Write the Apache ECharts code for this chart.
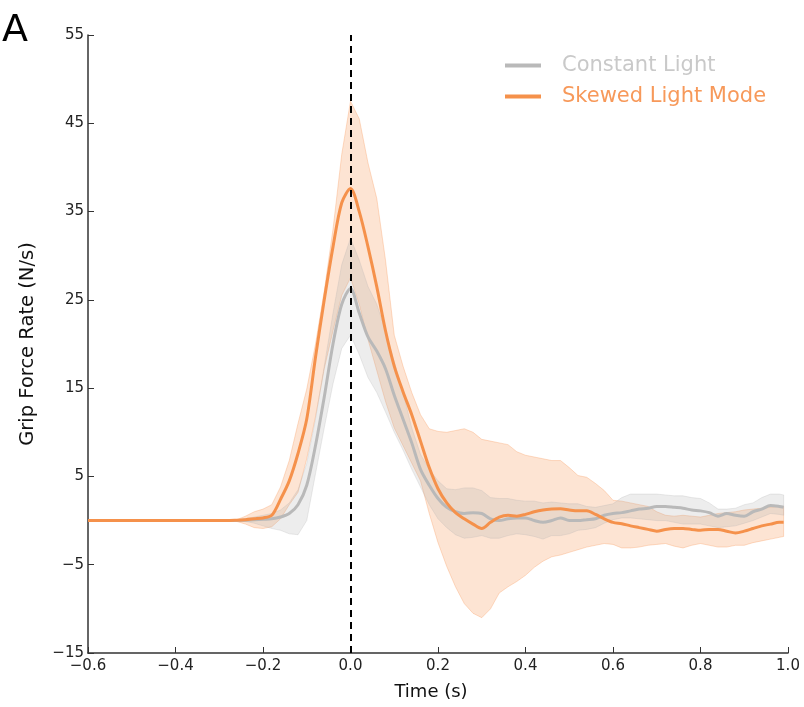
<!DOCTYPE html>
<html>
<head>
<meta charset="utf-8">
<script src="https://cdn.jsdelivr.net/npm/echarts@6/dist/echarts.min.js"></script>
<style>
    html, body { margin: 0; padding: 0; background: #fff; }
    #chart { width: 804px; height: 707px; }
</style>
</head>
<body>
<div id="chart"></div>
<script>
// time points (s)
var times = [-0.6, -0.5, -0.4, -0.3, -0.26, -0.24, -0.22, -0.20, -0.18, -0.16, -0.14, -0.12, -0.10, -0.08, -0.06, -0.04, -0.02,
    0.00, 0.02, 0.04, 0.06, 0.08, 0.10, 0.12, 0.14, 0.16, 0.18, 0.20, 0.22, 0.24, 0.26, 0.28, 0.30, 0.32, 0.34, 0.36, 0.38,
    0.40, 0.42, 0.44, 0.46, 0.48, 0.50, 0.52, 0.54, 0.56, 0.58, 0.60, 0.62, 0.64, 0.66, 0.68, 0.70, 0.72, 0.74, 0.76, 0.78,
    0.80, 0.82, 0.84, 0.86, 0.88, 0.90, 0.92, 0.94, 0.96, 0.98, 0.99];

// Skewed Light Mode: mean, upper, lower
var skewMean = [0, 0, 0, 0, 0.05, 0.1, 0.2, 0.3, 0.6, 2.4, 4.5, 7.6, 11.5, 18.5, 25, 31, 36,
    37.6, 35, 31, 26.5, 21.5, 17.5, 14.6, 12, 9, 6, 3.6, 2, 0.9, 0.2, -0.4, -0.9, -0.2, 0.4, 0.6, 0.5,
    0.7, 1.0, 1.2, 1.3, 1.35, 1.2, 1.1, 1.1, 0.7, 0.2, -0.2, -0.35, -0.6, -0.8, -1.0, -1.2, -1.0, -0.9, -0.9, -1.0,
    -1.1, -1.0, -1.0, -1.2, -1.4, -1.2, -0.9, -0.6, -0.4, -0.2, -0.2];
var skewUpper = [0, 0, 0, 0, 0.1, 0.5, 1.0, 1.3, 1.8, 3.8, 6.8, 11, 14.9, 20, 26, 33, 41.5,
    47.5, 45.5, 40.5, 36.5, 29.5, 21, 17.5, 14.5, 12, 10.4, 10.1, 10, 10.2, 10.4, 10, 9.2, 9, 8.8, 8.6, 7.8,
    7.4, 7.2, 7.0, 6.8, 6.8, 6, 5.1, 4.9, 4.2, 3.4, 2.3, 2.2, 2.0, 1.8, 1.6, 1.0, 0.6, 0.5, 0.6, 0.5,
    0.4, 0.6, 0.8, 0.9, 1.0, 1.2, 1.3, 1.4, 1.5, 1.6, 1.6];
var skewLower = [0, 0, 0, 0, -0.1, -0.4, -0.8, -0.9, -0.7, 0.2, 1.8, 3.2, 7, 11.8, 17.2, 21.5, 25.5,
    27.5, 24.5, 20.5, 17, 13.5, 10.5, 8.5, 6.5, 4.5, 0.8, -2.5, -5.2, -7.5, -9.4, -10.5, -11.0, -10, -8.2, -7.5, -6.9,
    -6.2, -5.3, -4.6, -4.1, -3.9, -3.6, -3.3, -3.0, -2.8, -2.6, -2.7, -3.1, -3.1, -3.0, -2.8, -2.7, -2.6, -2.9, -3.1, -2.8,
    -2.6, -2.8, -3.0, -3.0, -2.8, -2.8, -2.5, -2.3, -2.1, -1.9, -1.8];

// Constant Light: mean, upper, lower
var constMean = [0, 0, 0, 0, 0, 0.05, 0.1, 0.15, 0.2, 0.4, 0.8, 1.8, 4.0, 8.5, 14, 20, 24.5,
    26.3, 23.5, 20.8, 19.2, 17.2, 14.2, 11.5, 8.8, 5.8, 4.0, 2.5, 1.5, 1.0, 0.8, 0.9, 0.8, 0.2, 0, 0.2, 0.3,
    0.3, 0, -0.2, 0, 0.3, 0, 0, 0.1, 0.2, 0.6, 0.8, 0.9, 1.1, 1.3, 1.4, 1.6, 1.6, 1.5, 1.4, 1.2,
    1.1, 0.9, 0.5, 0.8, 0.6, 0.5, 1.0, 1.3, 1.7, 1.6, 1.5];
var constUpper = [0, 0, 0, 0, 0, 0.2, 0.4, 0.6, 0.8, 1.2, 2, 3.5, 6.5, 11.5, 17.5, 23.5, 29,
    32, 29.5, 26.5, 24.5, 21.5, 18, 14.5, 10.5, 7.5, 5.8, 4.5, 3.6, 3.5, 3.7, 3.7, 3.4, 2.6, 2.5, 2.5, 2.3,
    2.2, 2.2, 2.0, 2.1, 2.0, 1.9, 1.9, 1.6, 1.5, 1.7, 1.9, 2.6, 3.0, 3.0, 3.0, 3.0, 2.9, 2.8, 2.8, 2.6,
    2.5, 2.0, 1.3, 1.3, 1.4, 1.8, 2.0, 2.6, 3.0, 3.0, 2.9];
var constLower = [0, 0, 0, 0, 0, -0.1, -0.3, -0.6, -0.9, -1.1, -1.5, -1.6, 0, 5.3, 10.5, 15.5, 19.5,
    21, 18.8, 16.2, 14.5, 12.3, 10, 8, 5.8, 3.8, 1.8, 0.2, -0.8, -1.6, -2.0, -1.9, -1.7, -2.0, -2.0, -1.7, -1.5,
    -1.6, -1.8, -2.1, -1.7, -1.7, -1.5, -1.1, -1.0, -0.8, -0.3, 0.1, 0.3, 0.3, 0.2, 0.1, 0, 0, -0.2, -0.4, -0.4,
    -0.4, -0.6, -0.8, -0.7, -0.6, -0.3, 0, 0.4, 0.8, 0.7, 0.6];

var orange = '#f5914b';
var grey = '#b9b9b9';

function pairs(ys) {
    var out = [];
    for (var i = 0; i < times.length; i++) {
        out.push([times[i], ys[i]]);
    }
    return out;
}

// band polygon built from the axis scales
function bandSeries(upper, lower, fill, edge) {
    return {
        type: 'custom',
        data: [[0, 0]],
        encode: { x: 0, y: 1 },
        silent: true,
        renderItem: function (params, api) {
            var pts = [];
            for (var i = 0; i < times.length; i++) {
                pts.push(api.coord([times[i], upper[i]]));
            }
            for (var j = times.length - 1; j >= 0; j--) {
                pts.push(api.coord([times[j], lower[j]]));
            }
            return {
                type: 'polygon',
                shape: { points: pts },
                style: { fill: fill, stroke: edge, lineWidth: 1, lineJoin: 'round' }
            };
        }
    };
}

function fmtMinus(v) {
    return String(v).replace('-', '\u2212');
}

var myChart = echarts.init(document.getElementById('chart'));
var option = {
    animation: false,
    backgroundColor: '#fff',
    textStyle: { fontFamily: 'DejaVu Sans' },
    graphic: [
        { type: 'text', left: 2, top: 12, style: { text: 'A', font: '38px DejaVu Sans', fill: '#000' } }
    ],
    legend: {
        orient: 'vertical',
        left: 500,
        top: 50,
        itemWidth: 36,
        itemHeight: 4,
        itemGap: 10,
        icon: 'rect',
        data: [
            { name: 'Constant Light', textStyle: { color: '#c9c9c9' } },
            { name: 'Skewed Light Mode', textStyle: { color: '#f7995a' } }
        ],
        textStyle: { fontSize: 21, fontFamily: 'DejaVu Sans', padding: [0, 0, 0, 16] }
    },
    grid: { left: 88, right: 16, top: 35, bottom: 54, containLabel: false },
    xAxis: {
        type: 'value',
        min: -0.6,
        max: 1.0,
        interval: 0.2,
        name: 'Time (s)',
        nameLocation: 'middle',
        nameGap: 30,
        nameTextStyle: { fontSize: 18, color: '#111', padding: [0, 0, 0, -14] },
        axisLine: { onZero: false, lineStyle: { color: '#333', width: 1.5 } },
        axisTick: { inside: true, length: 6, lineStyle: { color: '#333' } },
        axisLabel: {
            fontSize: 15, color: '#222', margin: 6,
            formatter: function (v) { return fmtMinus(v.toFixed(1)); }
        },
        splitLine: { show: false }
    },
    yAxis: {
        type: 'value',
        min: -15,
        max: 55,
        interval: 10,
        name: 'Grip Force Rate (N/s)',
        nameLocation: 'middle',
        nameGap: 50,
        nameTextStyle: { fontSize: 19.5, color: '#111' },
        axisLine: { onZero: false, lineStyle: { color: '#333', width: 1.5 } },
        axisTick: { inside: true, length: 6, lineStyle: { color: '#333' } },
        axisLabel: {
            fontSize: 15, color: '#222', margin: 4,
            formatter: function (v) { return fmtMinus(v); }
        },
        splitLine: { show: false }
    },
    series: [
        bandSeries(skewUpper, skewLower, 'rgba(248,146,80,0.25)', 'rgba(248,146,80,0.3)'),
        bandSeries(constUpper, constLower, 'rgba(175,175,175,0.22)', 'rgba(175,175,175,0.25)'),
        {
            name: 'Constant Light',
            type: 'line',
            data: pairs(constMean),
            symbol: 'none',
            smooth: 0.3,
            itemStyle: { color: grey },
            lineStyle: { color: grey, width: 3 },
            z: 3
        },
        {
            name: 'Skewed Light Mode',
            type: 'line',
            data: pairs(skewMean),
            symbol: 'none',
            smooth: 0.3,
            itemStyle: { color: orange },
            lineStyle: { color: orange, width: 3 },
            z: 4,
            markLine: {
                silent: true,
                symbol: 'none',
                label: { show: false },
                lineStyle: { color: '#000', type: [7, 5], width: 2 },
                data: [{ xAxis: 0 }]
            }
        }
    ]
};
myChart.setOption(option);
</script>
</body>
</html>
